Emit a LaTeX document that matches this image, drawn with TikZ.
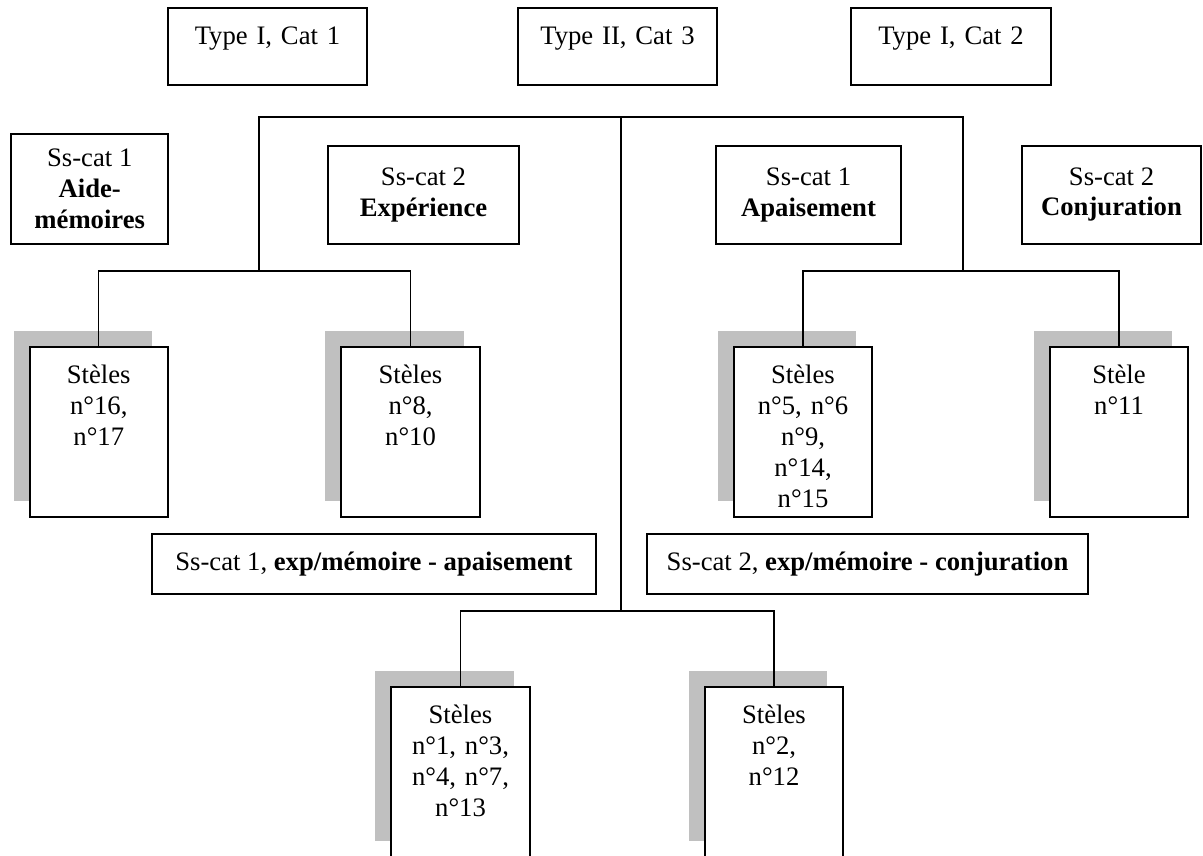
\documentclass[tikz,border=0pt]{standalone}
\usepackage{fontspec}
\setmainfont{Liberation Serif}
\usepackage{xcolor}
\usetikzlibrary{shadows}

\definecolor{stelegray}{HTML}{C0C0C0}

\tikzset{
	box/.style={draw, line width=0.9pt, fill=white, align=center, inner sep=0pt, font=\fontsize{12}{13.9}\selectfont},
	typebox/.style={box, text width=89.6pt, text height=16.6pt, text depth=18pt},
	catbox/.style={box, minimum height=44.1pt},
	stelebox/.style={box, text width=62.3pt, text height=16.6pt, text depth=59.9pt, drop shadow={shadow xshift=-7.2pt, shadow yshift=7.2pt, fill=stelegray, opacity=1}},
	mixbox/.style={box, minimum height=27pt},
	link/.style={line width=0.6pt}
}

\begin{document}
\begin{tikzpicture}[x=0.45pt, y=-0.45pt]
	\path[use as bounding box, fill=white] (0,0) rectangle (1203,855);

	\node[typebox] (type1) at (267.5,46.5) {Type I, Cat 1};
	\node[typebox] (type3) at (617.5,46.5) {Type II, Cat 3};
	\node[typebox] (type2) at (951,46.5) {Type I, Cat 2};

	\node[catbox, minimum width=70.6pt, minimum height=49.5pt] (aide) at (89.75,189) {Ss-cat 1\\\textbf{Aide-}\\\textbf{mémoires}};
	\node[catbox, minimum width=86pt] (exper) at (423.5,195) {Ss-cat 2\\\textbf{Expérience}};
	\node[catbox, minimum width=83.3pt] (apais) at (808.5,195) {Ss-cat 1\\\textbf{Apaisement}};
	\node[catbox, minimum width=80.6pt] (conju) at (1111.5,194.5) {Ss-cat 2\\\textbf{Conjuration}};

	\node[stelebox] (ste16) at (98.75,432) {Stèles\\n°16,\\n°17};
	\node[stelebox] (ste8) at (410.5,432) {Stèles\\n°8,\\n°10};
	\node[stelebox] (ste5) at (803,432) {Stèles\\n°5, n°6\\n°9,\\n°14,\\n°15};
	\node[stelebox] (ste11) at (1119,432) {Stèle\\n°11};

	\node[mixbox, minimum width=199.8pt] (mixap) at (374,564) {Ss-cat 1, \textbf{exp/mémoire - apaisement}};
	\node[mixbox, minimum width=198.5pt] (mixco) at (867.5,564) {Ss-cat 2, \textbf{exp/mémoire - conjuration}};

	\node[stelebox] (ste1) at (460.5,772) {Stèles\\n°1, n°3,\\n°4, n°7,\\n°13};
	\node[stelebox] (ste2) at (774,772) {Stèles\\n°2,\\n°12};

	\coordinate (root) at (621,117);
	\coordinate (hubL) at (259,271);
	\coordinate (hubR) at (963,271);
	\coordinate (hubB) at (621,611);

	\draw[link] (hubL) -- (hubL |- root) -- (hubR |- root) -- (hubR);
	\draw[link] (root) -- (hubB);
	\draw[link] (ste16.north) -- (ste16.north |- hubL) -- (ste8.north |- hubL) -- (ste8.north);
	\draw[link] (ste5.north) -- (ste5.north |- hubR) -- (ste11.north |- hubR) -- (ste11.north);
	\draw[link] (ste1.north) -- (ste1.north |- hubB) -- (ste2.north |- hubB) -- (ste2.north);
\end{tikzpicture}
\end{document}
